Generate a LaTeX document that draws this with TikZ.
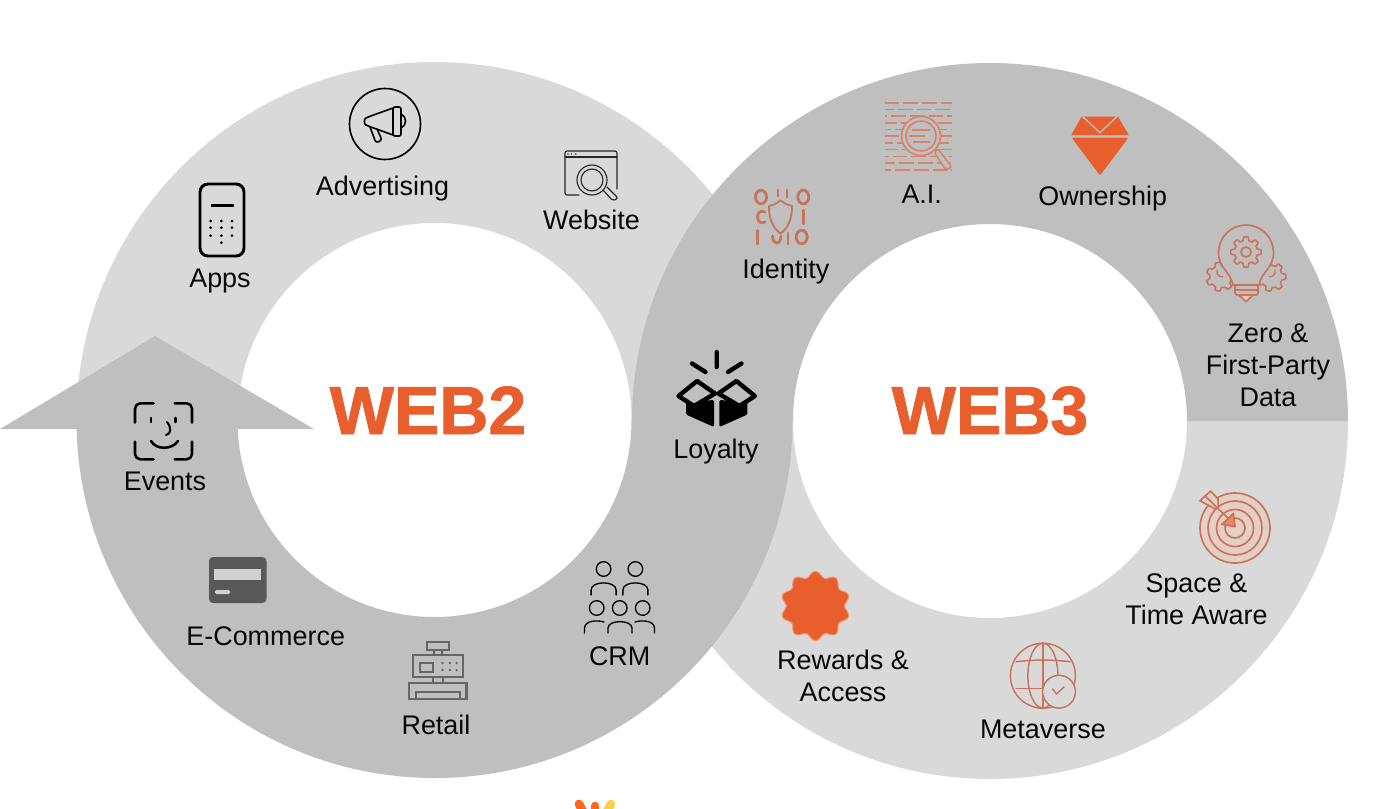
\documentclass[tikz,border=0pt]{standalone}
\usepackage{fontspec}
\setmainfont{Liberation Sans}[BoldFeatures={FakeBold=1.4}]
\definecolor{ringlight}{HTML}{D9D9D9}
\definecolor{ringdark}{HTML}{BFBFBF}
\definecolor{brand}{HTML}{E85E2C}
\definecolor{iconor}{HTML}{C9735A}
\definecolor{iconpale}{HTML}{D6836A}
\definecolor{targetfill}{HTML}{E3CFC6}
\definecolor{inkblack}{HTML}{080808}
\definecolor{cashgrey}{HTML}{666666}
\newcommand{\gearplot}[6]{% cx cy rout rin teeth colour
  \draw[#6,line width=1.2pt,line join=round] plot[domain=0:360,samples=145]
   ({#1+((#3+#4)/2+(#3-#4)/2*max(-1,min(1,2.2*cos(#5*\x))))*cos(\x)},
    {#2+((#3+#4)/2+(#3-#4)/2*max(-1,min(1,2.2*cos(#5*\x))))*sin(\x)}) -- cycle;}
\tikzset{
  lbl/.style={inner sep=0pt,outer sep=0pt,text=inkblack,font=\fontsize{20.2}{24}\selectfont,align=center},
  webtitle/.style={inner sep=0pt,outer sep=0pt,text=brand,font=\fontsize{51}{60}\selectfont\bfseries},
  blackline/.style={draw=black,line width=1.6pt,line join=round,line cap=round},
  thinblack/.style={draw=black,line width=1.2pt,line join=round,line cap=round},
  webline/.style={draw=black!85,line width=.85pt,line join=round,line cap=round},
  cashline/.style={draw=cashgrey,line width=1.9pt,line join=miter},
  orline/.style={draw=iconor,line width=1.25pt,line join=round,line cap=round},
  digitline/.style={draw=iconor,line width=2.1pt,line cap=round},
  paleline/.style={draw=iconpale,line width=1.2pt},
  boxflap/.style={draw=black,line width=3.3pt,line join=round,fill=ringdark},
}
\begin{document}
\begin{tikzpicture}[x=0.75pt,y=-0.75pt]
\useasboundingbox (0,0) rectangle (1374,808);
% --- rings
\fill[ringlight] (76.5,420) arc[start angle=180,end angle=360,radius=358] -- (631.5,420) arc[start angle=360,end angle=180,radius=197] -- cycle;
\fill[ringlight] (1348,421) arc[start angle=0,end angle=180,radius=358] -- (793,421) arc[start angle=180,end angle=0,radius=197] -- cycle;
\fill[ringdark] (76.5,420) arc[start angle=180,end angle=0,radius=358] -- (631.5,420) arc[start angle=0,end angle=180,radius=197] -- cycle;
\fill[ringdark] (632,421) arc[start angle=180,end angle=360,radius=358] -- (1187,421) arc[start angle=360,end angle=180,radius=197] -- cycle;
\fill[ringdark] (0,429) -- (155,336) -- (314,429) -- cycle;
% --- titles
\node[webtitle,anchor=base] (webtwo) at (428,434) {WEB2};
\node[webtitle,anchor=base] (webthree) at (990,434) {WEB3};
% --- Apps
\draw[blackline,line width=2.2pt,rounded corners=6pt] (200,184) rectangle (244,256);
\draw[blackline,line width=2.2pt,line cap=butt] (211,205.7) -- (234,205.7);
\foreach \px in {210.7,221.4,232}{\foreach \py in {221,227.7,235.7}{\fill[black] (\px,\py) circle (1.5);}}
\fill[black] (221.4,242.7) circle (1.5);
\node[lbl,anchor=base] (apps) at (220,287) {Apps};
% --- Advertising
\draw[thinblack] (385,124) circle (35.5);
\draw[thinblack,rounded corners=2pt] (393,108) -- (368,117) .. controls (364,119) and (364,124) .. (368,126) -- (393,135);
\draw[thinblack,rounded corners=1.5pt] (393,107) rectangle (401,136);
\draw[thinblack] (401,114) .. controls (407,116) and (407,126) .. (401,128);
\draw[thinblack,rounded corners=2pt] (370,127) -- (376,143) -- (382,140) -- (377,129);
\node[lbl,anchor=base] (advertising) at (382.5,195) {Advertising};
% --- Website
\draw[webline,rounded corners=1.5pt] (579,195) -- (565,195) -- (565,151) -- (617,151) -- (617,189);
\draw[webline] (565,157) -- (617,157);
\foreach \px in {568,571.5,575.7}{\fill[black!70] (\px,154) circle (.9);}
\draw[webline] (592,180) circle (15) (592,180) circle (11);
\draw[webline,rounded corners=1.5pt] (603,190) -- (613,201) -- (618,198) -- (607,187);
\node[lbl,anchor=base] (website) at (591.5,229) {Website};
% --- Events
\begin{scope}[blackline,line width=1.9pt,rounded corners=4pt]
\draw (135,422.7) -- (135,403.3) -- (153.6,403.3);
\draw (174.6,403.3) -- (192,403.3) -- (192,422.7);
\draw (135,441.7) -- (135,459.3) -- (153.6,459.3);
\draw (174.6,459.3) -- (192,459.3) -- (192,441.7);
\end{scope}
\draw[blackline,line width=1.9pt] (151,418) -- (151,422);
\draw[blackline,line width=1.9pt] (175.4,418) -- (175.4,422);
\draw[blackline,line width=1.5pt] (167,422) .. controls (172,428) and (171,434) .. (166,435);
\draw[blackline,line width=1.9pt] (151,441) .. controls (156,450) and (172,450) .. (178,441);
\node[lbl,anchor=base] (events) at (165,490) {Events};
% --- E-Commerce
\fill[black!65,rounded corners=3pt] (209,557) rectangle (266.5,603);
\fill[black!18] (214,569) rectangle (261,580);
\fill[black!18,rounded corners=1pt] (215,590) rectangle (230,594);
\node[lbl,anchor=base] (ecommerce) at (265.7,645) {E-Commerce};
% --- Retail
\draw[cashline] (427,642) rectangle (449,650);
\draw[cashline] (434,650) -- (434,655) (442,650) -- (442,655);
\draw[cashline] (413,655) rectangle (463,677);
\draw[cashline] (420,663) rectangle (433,672);
\foreach \px in {442.5,450,456.7}{\foreach \py in {663,670}{\fill[cashgrey] (\px,\py) circle (1.3);}}
\draw[cashline] (433,677) -- (433,683) (443,677) -- (443,683);
\draw[cashline] (409,683) rectangle (466.5,699);
\draw[cashline] (416,699) -- (416,692) -- (460,692) -- (460,699);
\node[lbl,anchor=base] (retail) at (436,734) {Retail};
% --- CRM
\foreach \px in {603.6,635.4}{
  \draw[thinblack,line width=1pt] (\px,569) circle (7.3);
  \draw[thinblack,line width=1pt] (\px-12.5,595) -- (\px-12.5,590) .. controls (\px-12.5,580.5) and (\px+12.5,580.5) .. (\px+12.5,590) -- (\px+12.5,595);}
\foreach \px in {596.7,619.7,642.7}{\draw[thinblack,line width=1pt] (\px,608) circle (7.3);}
\draw[thinblack,line width=1pt] (584.5,633) -- (584.5,628) .. controls (585,620) and (598,620) .. (604,622);
\draw[thinblack,line width=1pt] (608,633) -- (608,628) .. controls (608,619.5) and (632,619.5) .. (632,628) -- (632,633);
\draw[thinblack,line width=1pt] (635,622) .. controls (641,620) and (654,620) .. (654.5,628) -- (654.5,633);
\node[lbl,anchor=base] (crm) at (619.7,665) {CRM};
% --- Loyalty
\draw[black,line width=3.3pt,line cap=round] (716.7,352) -- (716.7,367) (692,363.5) -- (705.5,372) (741.5,363.5) -- (728,372);
\fill[black,rounded corners=1pt] (686,402) -- (686,414.5) -- (714,427) -- (714,400) -- cycle;
\fill[black,rounded corners=1pt] (747.4,402) -- (747.4,414.5) -- (719.4,427) -- (719.4,400) -- cycle;
\draw[boxflap] (697,381) -- (678.5,396) -- (694,406) -- (715,393.5) -- cycle;
\draw[boxflap] (736.4,381) -- (754.9,396) -- (739.4,406) -- (718.4,393.5) -- cycle;
\node[lbl,anchor=base] (loyalty) at (716,458) {Loyalty};
% --- Identity
\begin{scope}[digitline]
\draw (761,197) ellipse (5.5 and 6.8);
\draw (778,190) -- (778,196) (787,190) -- (787,197);
\draw (803.3,197) ellipse (5.5 and 6.8);
\draw (765,212) .. controls (755,207) and (755,227) .. (765,222);
\draw (803.3,210) -- (803.3,224);
\draw (757.7,230.5) -- (757.7,244);
\draw (772.5,236) .. controls (772.5,245.5) and (781,245.5) .. (781,236);
\draw (788,233) -- (788,244);
\draw (801.7,237) ellipse (5.5 and 6.8);
\end{scope}
\draw[orline,line width=1.4pt] (780.5,200.3) .. controls (776,204) and (772,205.5) .. (769,206) .. controls (769,218) and (772,227) .. (780.5,233.7) .. controls (789,227) and (792,218) .. (792,206) .. controls (789,205.5) and (785,204) .. (780.5,200.3);
\node[lbl,anchor=base] (identity) at (785.8,278) {Identity};
% --- A.I.
\foreach \ry/\ph in {102.7/0,109.4/4,116.1/9,122.8/2,129.5/6,136.2/0,142.9/5,149.6/1,156.3/8,163/3,169.7/6}{
  \draw[paleline,dash pattern=on 11pt off 3pt,dash phase=\ph pt] (884.5,\ry) -- (951.5,\ry);}
\draw[paleline,fill=ringdark] (921,136) circle (19.5);
\draw[paleline] (921,136) circle (15);
\draw[paleline] (912,130) -- (930,130) (909,136) -- (925,136) (913,142) -- (930,142);
\draw[paleline,fill=ringdark,rounded corners=1.5pt] (934,152) -- (946,170) -- (951.5,167) -- (938,149) -- cycle;
\node[lbl,anchor=base] (ai) at (921.7,203) {A.I.};
% --- Ownership
\fill[brand,line join=round] (1081.6,116.7) -- (1118,116.7) -- (1128.7,135) -- (1071.3,135) -- cycle;
\fill[brand,rounded corners=1.5pt] (1071.5,137.5) -- (1128.5,137.5) -- (1100,175.5) -- cycle;
\draw[ringdark,line width=1pt] (1082.5,116.5) -- (1100,132.7) -- (1117,116.5);
\node[lbl,anchor=base] (ownership) at (1102.7,205) {Ownership};
% --- Zero & First-Party Data
\gearplot{1220.7}{276.7}{14.5}{11}{7}{iconor}
\gearplot{1271.3}{276.7}{14.5}{11}{7}{iconor}
\draw[orline,fill=ringdark] (1233,285) .. controls (1230,271) and (1218.5,268) .. (1218.5,252.5) arc[start angle=180,end angle=360,radius=27.5] .. controls (1273.5,268) and (1262,271) .. (1259,285) -- cycle;
\gearplot{1246}{252}{15.2}{11.5}{8}{iconor}
\draw[orline] (1246,252) circle (5);
\draw[orline,line width=1pt] (1217,270) arc[start angle=200,end angle=80,radius=5];
\draw[orline,line width=1pt] (1275,270) arc[start angle=-20,end angle=100,radius=5];
\draw[orline,fill=ringdark,rounded corners=1.5pt] (1235,285) rectangle (1258,295);
\draw[orline] (1235,290) -- (1258,290);
\draw[orline,fill=iconor!40] (1239,295) -- (1253,295) -- (1246,301.7) -- cycle;
\node[lbl,anchor=center] (zerofirst) at (1268,365) {Zero \&\\First-Party\\Data};
% --- Space & Time Aware
\fill[targetfill] (1235,528) circle (35);
\foreach \rr in {35,27,18.5,10}{\draw[orline] (1235,528) circle (\rr);}
\draw[orline,fill=targetfill] (1210.7,491) -- (1200,500.7) -- (1215,509) -- (1218.5,507) -- (1218,499) -- cycle;
\draw[orline] (1205,496) -- (1232,522);
\draw[orline,fill=brand!75!white] (1233.3,513.3) -- (1235,526.7) -- (1221.7,524.3) -- (1228.5,518.5) -- cycle;
\node[lbl,anchor=center] (spacetime) at (1196.4,599) {Space \&\\Time Aware};
% --- Metaverse
\draw[orline,line width=1.1pt] (1042.9,675.7) circle (32.5);
\draw[orline,line width=1.1pt] (1042.9,675.7) ellipse (15 and 32.5);
\draw[orline,line width=1.1pt] (1042.9,643.2) -- (1042.9,708.2);
\draw[orline,line width=1.1pt] (1016,661.7) .. controls (1034,659.5) and (1052,659.5) .. (1070,661.7);
\draw[orline,line width=1.1pt] (1016,688.3) -- (1050,688.3);
\draw[orline,line width=1.1pt,fill=ringlight] (1059,691.7) circle (16.4);
\draw[orline,line width=1.1pt] (1052.5,689) -- (1056.5,694) -- (1064,687);
\node[lbl,anchor=base] (metaverse) at (1042.9,738) {Metaverse};
% --- Rewards & Access
\draw[draw=brand!60!white,line width=.8pt,fill=brand] plot[smooth cycle,domain=0:357,samples=120] ({815.4+(32+2.8*cos(10*(\x+90)))*cos(\x)},{606+(32+2.8*cos(10*(\x+90)))*sin(\x)});
\node[lbl,anchor=center] (rewards) at (843,676.2) {Rewards \&\\Access};
% --- cropped logo at bottom edge
\begin{scope}
\clip (0,0) rectangle (1374,808);
\draw[line width=6.5pt,line cap=round,draw=orange!65!red!90!white] (579,804) -- (585,815);
\draw[line width=6.5pt,line cap=round,draw=orange!70!red!90!white] (595,806) -- (595,815);
\draw[line width=6.5pt,line cap=round,draw=yellow!50!orange!70!white] (611,804) -- (605,815);
\end{scope}
\end{tikzpicture}
\end{document}
